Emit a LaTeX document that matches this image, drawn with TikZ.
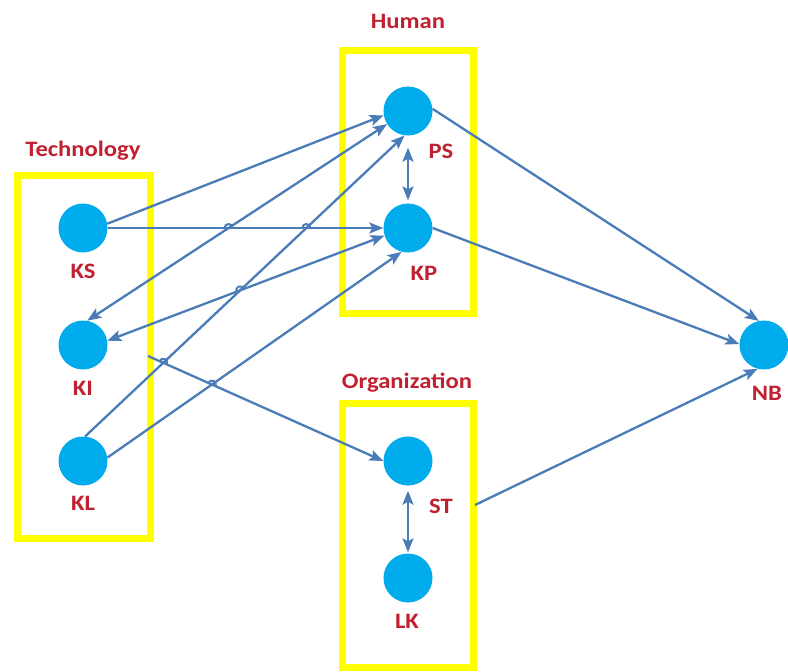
\documentclass[tikz,border=0pt]{standalone}
\usepackage{graphicx}
\usepackage{fontspec}
\setmainfont{Carlito}
\usetikzlibrary{arrows.meta,intersections}

\definecolor{nodeblue}{RGB}{0,172,236}
\definecolor{linkblue}{RGB}{74,124,184}
\definecolor{labelred}{RGB}{192,32,48}
\definecolor{groupyellow}{RGB}{255,255,0}

% slightly widened bold label text
\newcommand{\lbl}[1]{\scalebox{1.12}[1]{#1}}

\begin{document}
\begin{tikzpicture}[x=1pt,y=-1pt,
  dot/.style={circle, fill=nodeblue, minimum size=49pt, inner sep=0pt},
  tag/.style={text=labelred, font=\fontsize{22}{26}\selectfont\bfseries, inner sep=0pt, anchor=base},
  group/.style={draw=groupyellow, line width=7pt},
  link/.style={draw=linkblue, line width=2.3pt, -{Stealth[length=14pt,width=11pt,inset=3pt]}},
  both/.style={draw=linkblue, line width=2.3pt, {Stealth[length=14pt,width=11pt,inset=3pt]}-{Stealth[length=14pt,width=11pt,inset=3pt]}},
  hopline/.style={draw=linkblue, line width=2pt}
]
\fill[white] (0,0) rectangle (788,672);
\useasboundingbox (0,0) rectangle (788,672);

% group frames
\draw[group] (17,175) rectangle (150,538);
\draw[group] (342,50) rectangle (473,313);
\draw[group] (342,403) rectangle (473,667);

% group titles
\node[tag] (tTech) at (83,156) {\lbl{Technology}};
\node[tag] (tHuman) at (408,28) {\lbl{Human}};
\node[tag] (tOrg) at (407,388) {\lbl{Organization}};

% factor nodes
\node[dot] (KS) at (83,228) {};
\node[dot] (KI) at (83,345) {};
\node[dot] (KL) at (83,461) {};
\node[dot] (PS) at (408,111) {};
\node[dot] (KP) at (408,228) {};
\node[dot] (ST) at (408,461) {};
\node[dot] (LK) at (408,578) {};
\node[dot] (NB) at (764,345) {};

% node labels
\node[tag] (lKS) at (83,278) {\lbl{KS}};
\node[tag] (lKI) at (83,395) {\lbl{KI}};
\node[tag] (lKL) at (83,510) {\lbl{KL}};
\node[tag] (lPS) at (441,158) {\lbl{PS}};
\node[tag] (lKP) at (424,280) {\lbl{KP}};
\node[tag] (lST) at (441,513) {\lbl{ST}};
\node[tag] (lLK) at (407,628) {\lbl{LK}};
\node[tag] (lNB) at (767,400) {\lbl{NB}};

% free ends of two connectors
\coordinate (kiout) at (148,356);
\coordinate (stout) at (475,505);

% connectors
\draw[link, name path=kskp] (KS.east) -- (KP.west);
\draw[link] (KS.10) -- (PS.190);
\draw[both, name path=kips] (KI.80) -- (PS.212);
\draw[both, name path=kikp] (KI.10) -- (KP.198);
\draw[link, name path=klps] (KL.85) -- (PS.262);
\draw[link, name path=klkp] (KL.8) -- (KP.255);
\draw[both, shorten <=12pt, shorten >=3pt] (PS.south) -- (KP.north);
\draw[link] (PS.5) -- (NB.102);
\draw[link] (KP.east) -- (NB.178);
\draw[link, name path=kist] (kiout) -- (ST.west);
\draw[link] (stout) -- (NB.255);
\draw[both, shorten <=5pt, shorten >=1pt] (ST.south) -- (LK.north);

% line jumps where connectors cross
\path[name intersections={of=kskp and kips, by=h1}];
\path[name intersections={of=kskp and klps, by=h2}];
\path[name intersections={of=kikp and klps, by=h3}];
\path[name intersections={of=kist and klps, by=h4}];
\path[name intersections={of=kist and klkp, by=h5}];
\draw[hopline] (h1) ++(180:4pt) arc[start angle=180, end angle=0, radius=4pt];
\draw[hopline] (h2) ++(180:4pt) arc[start angle=180, end angle=0, radius=4pt];
\draw[hopline] (h3) ++(200.6:4pt) arc[start angle=200.6, end angle=20.6, radius=4pt];
\draw[hopline] (h4) ++(156:4pt) arc[start angle=156, end angle=-24, radius=4pt];
\draw[hopline] (h5) ++(156:4pt) arc[start angle=156, end angle=-24, radius=4pt];
\end{tikzpicture}
\end{document}
